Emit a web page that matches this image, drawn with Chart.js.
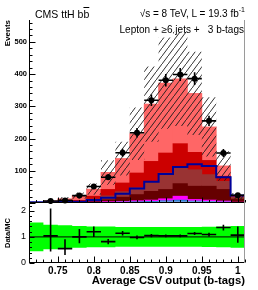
<!DOCTYPE html>
<html><head><meta charset="utf-8">
<script src="https://cdn.jsdelivr.net/npm/chart.js@4.4.1/dist/chart.umd.min.js"></script>
<style>
html,body{margin:0;padding:0;background:#fff;}
#wrap{position:relative;width:258px;height:290px;overflow:hidden;background:#fff;}
canvas{position:absolute;left:0;}
.t{position:absolute;font-family:"Liberation Sans",Arial,sans-serif;color:#000;white-space:pre;line-height:1;}
</style></head><body>
<div id="wrap">
<canvas id="mainC" width="258" height="204" style="top:0;width:258px;height:204px"></canvas>
<canvas id="ratioC" width="258" height="87" style="top:203px;width:258px;height:87px"></canvas>
<div class="t" style="left:35px;top:9px;font-size:10.5px">CMS ttH b<span style="text-decoration:overline">b</span></div>
<div class="t" style="right:13px;top:9px;font-size:10px">√s = 8 TeV, L = 19.3 fb<sup style="font-size:7px;vertical-align:5px;line-height:0">-1</sup></div>
<div class="t" style="right:14px;top:24.5px;font-size:10px">Lepton + ≥6 jets +   3 b-tags</div>
</div>
<script>
// ---- data ----
const binCenters = [0.72,0.74,0.76,0.78,0.80,0.82,0.84,0.86,0.88,0.90,0.92,0.94,0.96,0.98,1.00];
const binHalfWidth = 0.01;
const xTickValues = [0.75,0.80,0.85,0.90,0.95,1.00];
const xTickLabels = ['0.75','0.8','0.85','0.9','0.95','1'];
const yTickValues = [100,200,300,400,500];
const yTickLabels = ['100','200','300','400','500'];
const ratioTickValues = [0,1,2];
const ratioTickLabels = ['0','1','2'];

const ewk       = [0,0,0.5,0.5,1,1,2,2,2,3,3,3,3,2,1];
const ttV       = [0,0,0,0.5,0.5,1,1,2,3,4,6,3,2,1,0.5];
const singleTop = [0,0.5,0.5,1,1,2,2,3,4,6,12,5,4,3,1];
const ttbb      = [0.5,0.5,1,1,3.5,6,13,19,27,29,39,41,43,36,9.5];
const ttb       = [0,0.5,1,2,6,12,17,21,31,51,49,51,36,25,6];
const ttcc      = [0,0.5,1,3,9,20,27,46,62,62,75,54,44,16,2];
const ttlf      = [0.5,4,9,15,22,53,76,122,178,217,201,183,104,32,2];
const ttH       = [2,2,3,4,9,16,29,45,66,90,112,120,115,80,23];
const mcUncRel  = [0.55,0.47,0.45,0.42,0.40,0.40,0.38,0.38,0.38,0.38,0.38,0.38,0.39,0.40,0.42];
const dataValues= [null,6,8,23,51,80,156,218,319,381,399,386,255,155,24];
const dataErr   = [null,2.4,2.8,4.8,7.1,8.9,12.5,14.8,17.9,19.5,20,19.6,16,12.4,4.9];
const ratioValues=[null,1.04,0.55,1.0,1.2,0.82,1.14,0.98,1.05,1.04,1.04,1.13,1.09,1.36,1.07];
const ratioErrLo= [null,0.6,0.24,0.24,0.2,0.1,0.09,0.07,0.06,0.055,0.055,0.06,0.07,0.11,0.29];
const ratioErrHi= [null,1.05,0.36,0.3,0.2,0.1,0.09,0.07,0.06,0.055,0.055,0.06,0.07,0.11,0.33];

// ---- styles ----
const stackDefs = [
  {label:'EWK', vals: ewk, color:'#c4c4f4'},
  {label:'tt+W,Z', vals: ttV, color:'#2f7fd0'},
  {label:'single t', vals: singleTop, color:'#ff00ff'},
  {label:'tt+bb', vals: ttbb, color:'#660000'},
  {label:'tt+b', vals: ttb, color:'#993333'},
  {label:'tt+cc', vals: ttcc, color:'#cc0000'},
  {label:'tt+lf', vals: ttlf, color:'#ff6666'}
];

Chart.defaults.font.family = '"Liberation Sans", Arial, sans-serif';
Chart.defaults.color = '#000';

function edgeSeries(vals){
  const pts = binCenters.map((c,i)=>({x:c-binHalfWidth, y:vals[i]}));
  pts.push({x:binCenters[binCenters.length-1]+binHalfWidth, y:vals[vals.length-1]});
  return pts;
}
function crossSeries(vals, lo, hi){
  const pts=[];
  binCenters.forEach((c,i)=>{
    if(vals[i]==null) return;
    pts.push({x:c-binHalfWidth,y:vals[i]},{x:c+binHalfWidth,y:vals[i]},{x:c,y:null});
    pts.push({x:c,y:vals[i]-lo[i]},{x:c,y:vals[i]+hi[i]},{x:c,y:null});
  });
  return pts;
}
function makeHatch(){
  const w=6,h=8;
  const c=document.createElement('canvas'); c.width=w; c.height=h;
  const g=c.getContext('2d');
  g.strokeStyle='#1a1a1a'; g.lineWidth=0.9;
  g.beginPath(); g.moveTo(-1, h+h/w); g.lineTo(w+1, -h/w); g.stroke();
  return g.createPattern(c,'repeat');
}

const total = binCenters.map((_,i)=>stackDefs.reduce((s,d)=>s+d.vals[i],0));
const bandHi = total.map((t,i)=>t*(1+mcUncRel[i]));
const bandLo = total.map((t,i)=>t*(1-mcUncRel[i]));
const ratioBandHi = mcUncRel.map(u=>1+u);
const ratioBandLo = mcUncRel.map(u=>1-u);

const frameTicks = {
  id:'frameTicks',
  afterDatasetsDraw(chart, args, o){
    const {ctx, chartArea:a} = chart;
    const xs = chart.scales.x, ys = chart.scales.y;
    const L = Math.round(a.left)+0.5, R = Math.round(a.right)-0.5;
    const B = Math.round(a.bottom)-0.5, T = Math.round(a.top);
    const line=(x1,y1,x2,y2)=>{ctx.beginPath();ctx.moveTo(x1,y1);ctx.lineTo(x2,y2);ctx.stroke();};
    ctx.save();
    ctx.lineWidth=1; ctx.strokeStyle='#000';
    for(let i=o.xFrom;i<=o.xTo;i++){
      const px=Math.round(xs.getPixelForValue(i/100))+0.5;
      const len = i%5===0 ? o.xMajorLen : o.xMinorLen;
      line(px,B,px,B-len);
    }
    for(let k=0;k<=o.yCount;k++){
      const py=Math.round(ys.getPixelForValue(k*o.yStep))+0.5;
      const len = k%o.yMajorEvery===0 ? o.yMajorLen : o.yMinorLen;
      line(L,py,L+len,py);
    }
    line(L,T,L,B+0.5);
    line(L-0.5,B,R+0.5,B);
    ctx.strokeStyle='#9a9a9a';
    line(R,T,R,B+0.5);
    ctx.restore();
  }
};

const barSets = stackDefs.map(d=>({
  type:'bar', label:d.label,
  data: binCenters.map((c,i)=>({x:c,y:d.vals[i]})),
  backgroundColor:d.color, borderWidth:0, barPercentage:1, categoryPercentage:1,
  inflateAmount:0.4, stack:'mc', order:10, yAxisID:'y'
}));

new Chart(document.getElementById('mainC'), {
  type:'bar',
  data:{datasets:[
    {type:'line', label:'Data', data: binCenters.map((c,i)=>({x:c,y:dataValues[i]})), showLine:false,
     pointRadius:3, pointBackgroundColor:'#000', pointBorderWidth:0, order:0, yAxisID:'yl', clip:false},
    {type:'line', label:'Data err', data: crossSeries(dataValues,dataErr,dataErr), borderColor:'#000',
     borderWidth:1.6, pointRadius:0, order:1, yAxisID:'yl', clip:false},
    {type:'line', label:'ttH', data: edgeSeries(ttH), stepped:true, borderColor:'#000099', borderWidth:2,
     pointRadius:0, fill:false, order:2, yAxisID:'yl'},
    {type:'line', label:'MC unc hi', data: edgeSeries(bandHi), stepped:true, borderColor:'rgba(0,0,0,0)',
     borderWidth:1, pointRadius:0, fill:'+1', backgroundColor: makeHatch(), order:3, yAxisID:'yl'},
    {type:'line', label:'MC unc lo', data: edgeSeries(bandLo), stepped:true, borderColor:'rgba(0,0,0,0)',
     borderWidth:1, pointRadius:0, fill:false, order:4, yAxisID:'yl'},
    ...barSets
  ]},
  options:{
    responsive:false, animation:false, events:[],
    layout:{padding:{top:20,right:13,bottom:1,left:0}, autoPadding:false},
    plugins:{legend:{display:false}, tooltip:{enabled:false},
      frameTicks:{xFrom:71,xTo:101,xMajorLen:5,xMinorLen:2.5,yStep:20,yCount:28,yMajorEvery:5,yMajorLen:6,yMinorLen:3}},
    scales:{
      x:{type:'linear', min:0.71, max:1.01, offset:false, display:false},
      y:{type:'linear', stacked:true, min:0, max:568, position:'left',
         afterFit(s){s.width=29; s.paddingTop=0; s.paddingBottom=0;},
         afterBuildTicks(s){s.ticks=yTickValues.map(v=>({value:v}));},
         ticks:{callback:(v,i)=>yTickLabels[i], font:{size:7.5,weight:'bold'}, padding:2, autoSkip:false},
         grid:{display:false, drawTicks:false}, border:{display:false},
         title:{display:true, text:'Events', align:'end', font:{size:8,weight:'bold'}, padding:{top:3,bottom:0}}},
      yl:{type:'linear', min:0, max:568, display:false}
    }
  },
  plugins:[frameTicks]
});

new Chart(document.getElementById('ratioC'), {
  type:'line',
  data:{datasets:[
    {label:'Data/MC', data: crossSeries(ratioValues,ratioErrLo,ratioErrHi), borderColor:'#000', borderWidth:1.6,
     pointRadius:0, order:0},
    {label:'unity', data:[{x:0.71,y:1},{x:1.01,y:1}], borderColor:'#000', borderWidth:1, pointRadius:0, order:1},
    {label:'unc hi', data: edgeSeries(ratioBandHi), stepped:true, borderColor:'rgba(0,0,0,0)', borderWidth:1,
     pointRadius:0, fill:'+1', backgroundColor:'#00ff00', order:2},
    {label:'unc lo', data: edgeSeries(ratioBandLo), stepped:true, borderColor:'rgba(0,0,0,0)', borderWidth:1,
     pointRadius:0, fill:false, order:3}
  ]},
  options:{
    responsive:false, animation:false, events:[],
    layout:{padding:{top:0,right:13,bottom:0,left:0}, autoPadding:false},
    plugins:{legend:{display:false}, tooltip:{enabled:false},
      frameTicks:{xFrom:71,xTo:101,xMajorLen:6,xMinorLen:3,yStep:0.2,yCount:11,yMajorEvery:5,yMajorLen:5,yMinorLen:2.5}},
    scales:{
      x:{type:'linear', min:0.71, max:1.01, offset:false,
         afterFit(s){s.height=27; s.paddingLeft=0; s.paddingRight=0;},
         afterBuildTicks(s){s.ticks=xTickValues.map(v=>({value:v}));},
         ticks:{callback:(v,i)=>xTickLabels[i], font:{size:10,weight:'bold'}, padding:2, maxRotation:0, autoSkip:false},
         grid:{display:false, drawTicks:false}, border:{display:false},
         title:{display:true, text:'Average CSV output (b-tags)', align:'end', font:{size:11.3,weight:'bold'}, padding:{top:0,bottom:2}}},
      y:{type:'linear', min:0, max:2.3,
         afterFit(s){s.width=29; s.paddingTop=0; s.paddingBottom=0;},
         afterBuildTicks(s){s.ticks=ratioTickValues.map(v=>({value:v}));},
         ticks:{callback:(v,i)=>ratioTickLabels[i], font:{size:9}, padding:3, autoSkip:false},
         grid:{display:false, drawTicks:false}, border:{display:false},
         title:{display:true, text:'Data/MC', font:{size:7.5,weight:'bold'}, padding:{top:3.5,bottom:0}}}
    }
  },
  plugins:[frameTicks]
});
</script>
</body></html>
